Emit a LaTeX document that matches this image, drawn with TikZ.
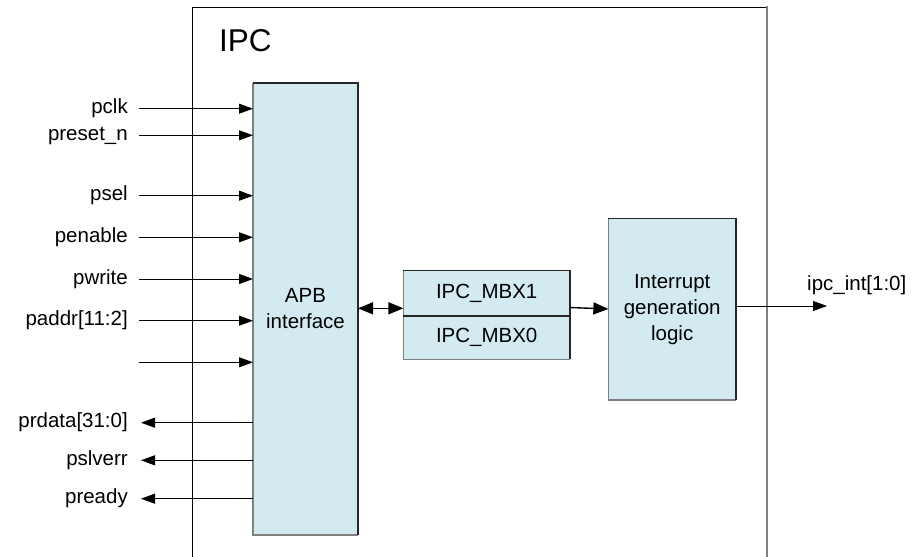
\documentclass[tikz,border=0pt]{standalone}
\usepackage{fontspec}
\setmainfont{Liberation Sans}
\usetikzlibrary{arrows.meta}

\definecolor{boxblue}{RGB}{210,234,240}
\definecolor{edgegray}{RGB}{128,128,128}

\tikzset{
  blockbox/.style={draw=none, fill=boxblue, inner sep=0pt, outer sep=0pt,
    align=center, font=\fontsize{20.5}{26}\selectfont},
  siglabel/.style={anchor=east, inner sep=0pt, text height=14.5pt, text depth=4.5pt,
    font=\fontsize{20.5}{24}\selectfont},
  sigarrow/.style={line width=0.9pt, -{Triangle[length=14pt,width=10pt]}},
  bigtip/.style={line width=1.4pt, -{Triangle[length=15pt,width=12pt]}},
  busarrow/.style={line width=1.4pt, {Triangle[length=15pt,width=12pt]}-{Triangle[length=15pt,width=12pt]}},
}

\begin{document}
\begin{tikzpicture}[x=1pt, y=-1pt]
\useasboundingbox (0,0) rectangle (914,557);

% IPC enclosure (continues below the page edge)
\draw[line width=1pt, black] (192,557) -- (192,7) -- (767,7);
\draw[line width=2pt, edgegray] (767,6) -- (767,557);
\node[anchor=base west, inner sep=0pt, font=\fontsize{31.5}{36}\selectfont] (title) at (219,51.7) {IPC};

% main blocks
\node[blockbox, minimum width=105pt, minimum height=452pt] (apb) at (305.5,309) {APB\\interface};
\node[blockbox, minimum width=166.7pt, minimum height=45.3pt] (mbx1) at (486.7,293.3) {IPC\_MBX1};
\node[blockbox, minimum width=166.7pt, minimum height=43.3pt, anchor=north] (mbx0) at (mbx1.south) {IPC\_MBX0};
\node[blockbox, minimum width=127.7pt, minimum height=181.7pt] (intr) at (672.2,309.2) {Interrupt\\generation\\logic};

% block outlines: shaded left/bottom, dark top/right
\foreach \b in {apb,mbx1,mbx0,intr} {
  \draw[line width=1.3pt, edgegray] (\b.north west) -- (\b.south west) -- (\b.south east);
  \draw[line width=1.3pt, black!85] (\b.south east) -- (\b.north east) -- (\b.north west);
}

% APB input signals
\node[siglabel] (pclk)   at (128,108.7) {pclk};
\node[siglabel] (preset) at (128,135.3) {preset\_n};
\node[siglabel] (psel)   at (128,195.7) {psel};
\node[siglabel] (penable) at (128,237.3) {penable};
\node[siglabel] (pwrite) at (128,279) {pwrite};
\node[siglabel] (paddr)  at (128,320.7) {paddr[11:2]};
\coordinate (spare) at (139,362.3);

\foreach \s in {pclk,preset,psel,penable,pwrite,paddr}
  \draw[sigarrow] ([xshift=11pt]\s.east) -- (apb.west |- \s.east);
\draw[sigarrow] (spare) -- (apb.west |- spare);

% APB output signals
\node[siglabel] (prdata)  at (128,422.7) {prdata[31:0]};
\node[siglabel] (pslverr) at (128,460.3) {pslverr};
\node[siglabel] (pready)  at (128,498.7) {pready};

\foreach \s in {prdata,pslverr,pready}
  \draw[sigarrow] (apb.west |- \s.east) -- ([xshift=13pt]\s.east);

% internal connections
\coordinate (bus) at (0,308.3);
\draw[busarrow] (apb.east |- bus) -- (mbx1.west |- bus);
\coordinate (mbxout) at (0,307.5);
\coordinate (intrin) at (0,309);
\draw[bigtip] (mbx1.east |- mbxout) -- (intr.west |- intrin);

% interrupt output
\coordinate (intout) at (827,306);
\draw[sigarrow] (intr.east |- intout) -- (intout);
\node[anchor=base west, inner sep=0pt, font=\fontsize{20.5}{24}\selectfont] (intlbl) at (807,290) {ipc\_int[1:0]};
\end{tikzpicture}
\end{document}
